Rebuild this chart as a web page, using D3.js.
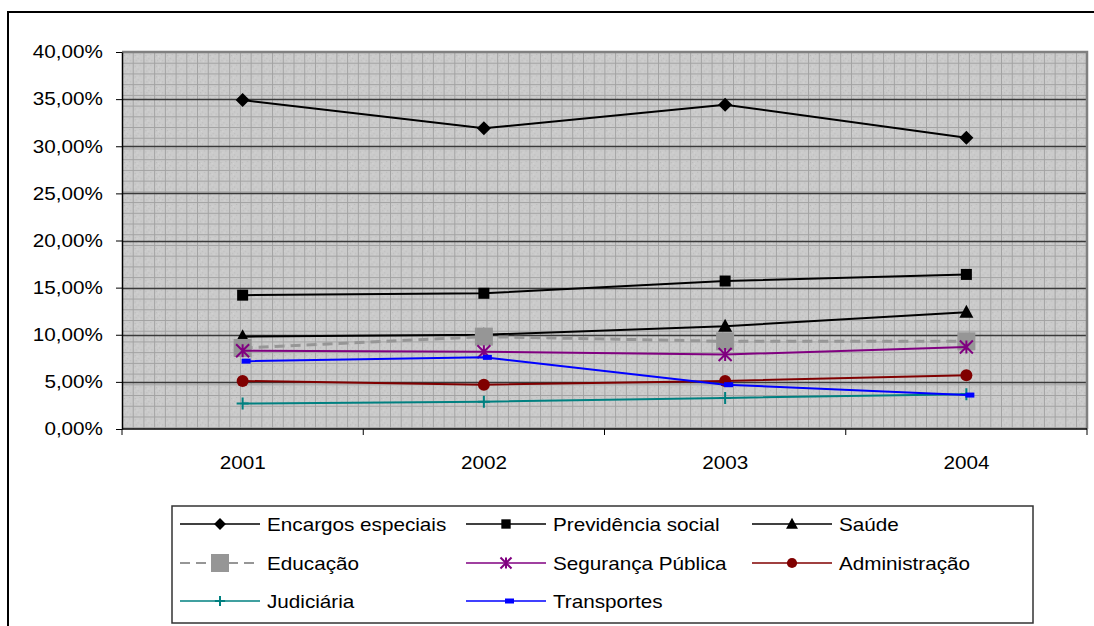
<!DOCTYPE html>
<html>
<head>
<meta charset="utf-8">
<script src="https://cdn.jsdelivr.net/npm/d3@7"></script>
<style>
  html, body { margin: 0; padding: 0; background: #fff; }
  svg { display: block; }
  text { font-family: "Liberation Sans", Arial, sans-serif; fill: #000; }
</style>
</head>
<body>
<svg id="chart" width="1094" height="626"></svg>
<script>
// Anos e participação (%) de cada função na despesa
const years = ["2001", "2002", "2003", "2004"];
const yTicks = [0, 5, 10, 15, 20, 25, 30, 35, 40];

const encargos     = [34.9, 31.9, 34.4, 30.9];
const previdencia  = [14.2, 14.4, 15.7, 16.4];
const saude        = [9.8, 10.0, 10.9, 12.4];
const educacao     = [8.6, 9.8, 9.3, 9.3];
const seguranca    = [8.3, 8.2, 7.9, 8.7];
const administracao = [5.1, 4.7, 5.1, 5.7];
const judiciaria   = [2.7, 2.9, 3.3, 3.7];
const transportes  = [7.2, 7.6, 4.7, 3.6];

const seriesNames = ["Encargos especiais", "Previdência social", "Saúde", "Educação",
  "Segurança Pública", "Administração", "Judiciária", "Transportes"];
const seriesValues = [encargos, previdencia, saude, educacao, seguranca, administracao, judiciaria, transportes];

const styles = [
  { color: "#000000", width: 2, dash: null, marker: "diamond" },
  { color: "#000000", width: 2, dash: null, marker: "square" },
  { color: "#000000", width: 2, dash: null, marker: "triangle" },
  { color: "#969696", width: 3, dash: "10,6", marker: "bigsquare" },
  { color: "#800080", width: 2, dash: null, marker: "star" },
  { color: "#800000", width: 2, dash: null, marker: "circle" },
  { color: "#008080", width: 2, dash: null, marker: "plus" },
  { color: "#0000ff", width: 2, dash: null, marker: "dash" }
];

const TX = 1.15; // horizontal text stretch
const FS = 18;

const svg = d3.select("#chart");
const plot = { left: 122, right: 1087, top: 52, bottom: 429 };

// chart frame
svg.append("rect").attr("x", 8).attr("y", 12).attr("width", 1200).attr("height", 800)
  .attr("fill", "#fff").attr("stroke", "#000").attr("stroke-width", 2);

// plot-area fill pattern
const defs = svg.append("defs");
const cell = 10.72;
const pat = defs.append("pattern").attr("id", "grid").attr("patternUnits", "userSpaceOnUse")
  .attr("x", plot.left).attr("y", plot.top).attr("width", cell).attr("height", cell);
pat.append("rect").attr("width", cell).attr("height", cell).attr("fill", "#cbcbcb");
[[2, 3], [5, 6], [7, 2], [3, 8], [8, 8]].forEach(([a, b]) =>
  pat.append("rect").attr("x", a).attr("y", b).attr("width", 1).attr("height", 1).attr("fill", "#b8b8b8"));
[[4, 4], [1, 6], [6, 9]].forEach(([a, b]) =>
  pat.append("rect").attr("x", a).attr("y", b).attr("width", 1).attr("height", 1).attr("fill", "#d8d8d8"));
pat.append("rect").attr("x", 0).attr("y", 0).attr("width", cell).attr("height", 1).attr("fill", "#a2a2a2");
pat.append("rect").attr("x", 0).attr("y", 0).attr("width", 1).attr("height", cell).attr("fill", "#a2a2a2");

const x = d3.scaleBand().domain(years).range([plot.left, plot.right]);
const y = d3.scaleLinear().domain([0, 40]).range([plot.bottom, plot.top]);

svg.append("rect").attr("x", plot.left).attr("y", plot.top)
  .attr("width", plot.right - plot.left).attr("height", plot.bottom - plot.top)
  .attr("fill", "url(#grid)");

// major gridlines
svg.append("g").selectAll("line").data(yTicks.filter(d => d > 0 && d < 40)).join("line")
  .attr("x1", plot.left).attr("x2", plot.right)
  .attr("y1", d => Math.round(y(d)) + 0.5).attr("y2", d => Math.round(y(d)) + 0.5)
  .attr("stroke", "#3a3a3a").attr("stroke-width", 1.6);

// plot border (top and right)
svg.append("path")
  .attr("d", `M${plot.left},${plot.top}H${plot.right}V${plot.bottom}`)
  .attr("fill", "none").attr("stroke", "#808080").attr("stroke-width", 2.5);

// y axis
const fmt = d => d3.format(".2f")(d).replace(".", ",") + "%";
const yAxis = svg.append("g").attr("transform", `translate(${plot.left},0)`)
  .call(d3.axisLeft(y).tickValues(yTicks).tickFormat(fmt).tickSize(6).tickSizeOuter(0));
yAxis.select(".domain").attr("stroke", "#000").attr("stroke-width", 1.5);
yAxis.selectAll(".tick line").attr("stroke", "#000");
yAxis.selectAll(".tick text").attr("x", -19 / TX).attr("transform", `scale(${TX},1)`)
  .style("font-size", FS + "px").style("font-family", "'Liberation Sans', Arial, sans-serif")
  .attr("fill", "#000");

// x axis, ticks between categories
const xAxis = svg.append("g").attr("transform", `translate(0,${plot.bottom})`);
xAxis.append("line").attr("x1", plot.left).attr("x2", plot.right)
  .attr("stroke", "#000").attr("stroke-width", 1.5);
const bounds = years.map(d => x(d)).concat([plot.right]);
xAxis.selectAll("line.tk").data(bounds).join("line").attr("class", "tk")
  .attr("x1", d => d).attr("x2", d => d).attr("y1", 0).attr("y2", 6).attr("stroke", "#000");
xAxis.selectAll("text").data(years).join("text")
  .attr("transform", d => `translate(${x(d) + x.bandwidth() / 2},40) scale(${TX},1)`)
  .attr("text-anchor", "middle").style("font-size", FS + "px").text(d => d);

// markers
function drawMarker(g, type, color, cx, cy, scale) {
  const s = scale || 1;
  switch (type) {
    case "diamond": {
      const r = 7 * s;
      g.append("path").attr("d", `M${cx},${cy - r}L${cx + r},${cy}L${cx},${cy + r}L${cx - r},${cy}Z`)
        .attr("fill", color);
      break;
    }
    case "square":
      g.append("rect").attr("x", cx - 5.5 * s).attr("y", cy - 5.5 * s).attr("width", 11 * s).attr("height", 11 * s).attr("fill", color);
      break;
    case "bigsquare":
      g.append("rect").attr("x", cx - 9 * s).attr("y", cy - 9 * s).attr("width", 18 * s).attr("height", 18 * s).attr("fill", color);
      break;
    case "triangle":
      g.append("path").attr("d", `M${cx},${cy - 7.5 * s}L${cx + 7 * s},${cy + 5.5 * s}L${cx - 7 * s},${cy + 5.5 * s}Z`).attr("fill", color);
      break;
    case "circle":
      g.append("circle").attr("cx", cx).attr("cy", cy).attr("r", 6 * s).attr("fill", color);
      break;
    case "star": {
      const r = 6.5 * s;
      g.append("path").attr("d",
        `M${cx - r},${cy - r}L${cx + r},${cy + r}M${cx + r},${cy - r}L${cx - r},${cy + r}M${cx},${cy - r}V${cy + r}`)
        .attr("stroke", color).attr("stroke-width", 2).attr("fill", "none");
      break;
    }
    case "plus":
      g.append("path").attr("d", `M${cx},${cy - 6 * s}V${cy + 6 * s}M${cx - 6 * s},${cy}H${cx + 6 * s}`)
        .attr("stroke", color).attr("stroke-width", 2).attr("fill", "none");
      break;
    case "dash":
      g.append("rect").attr("x", cx - 1).attr("y", cy - 2.5).attr("width", 9).attr("height", 5).attr("fill", color);
      break;
  }
}

const line = d3.line().x((d, i) => x(years[i]) + x.bandwidth() / 2).y(d => y(d));
const seriesG = svg.append("g");
seriesValues.forEach((vals, k) => {
  const st = styles[k];
  const g = seriesG.append("g");
  g.append("path").datum(vals).attr("d", line).attr("fill", "none")
    .attr("stroke", st.color).attr("stroke-width", st.width)
    .attr("stroke-dasharray", st.dash);
  vals.forEach((v, i) => drawMarker(g, st.marker, st.color, x(years[i]) + x.bandwidth() / 2, y(v)));
});

// legend
const legend = svg.append("g");
legend.append("rect").attr("x", 172).attr("y", 506).attr("width", 861).attr("height", 117)
  .attr("fill", "#fff").attr("stroke", "#333").attr("stroke-width", 1.5);
const colX = [180, 466, 752];
const rowY = [524, 563, 601];
seriesNames.forEach((name, k) => {
  const st = styles[k];
  const lx = colX[k % 3], ly = rowY[Math.floor(k / 3)];
  const g = legend.append("g");
  g.append("line").attr("x1", lx).attr("x2", lx + 80).attr("y1", ly).attr("y2", ly)
    .attr("stroke", st.color).attr("stroke-width", st.width === 3 ? 2 : 1.6)
    .attr("stroke-dasharray", st.dash);
  drawMarker(g, st.marker, st.color, lx + 40, ly, st.marker === "bigsquare" ? 1 : 0.85);
  g.append("text").attr("transform", `translate(${lx + 87},${ly + 6.5}) scale(${TX},1)`)
    .style("font-size", FS + "px").text(name);
});
</script>
</body>
</html>
